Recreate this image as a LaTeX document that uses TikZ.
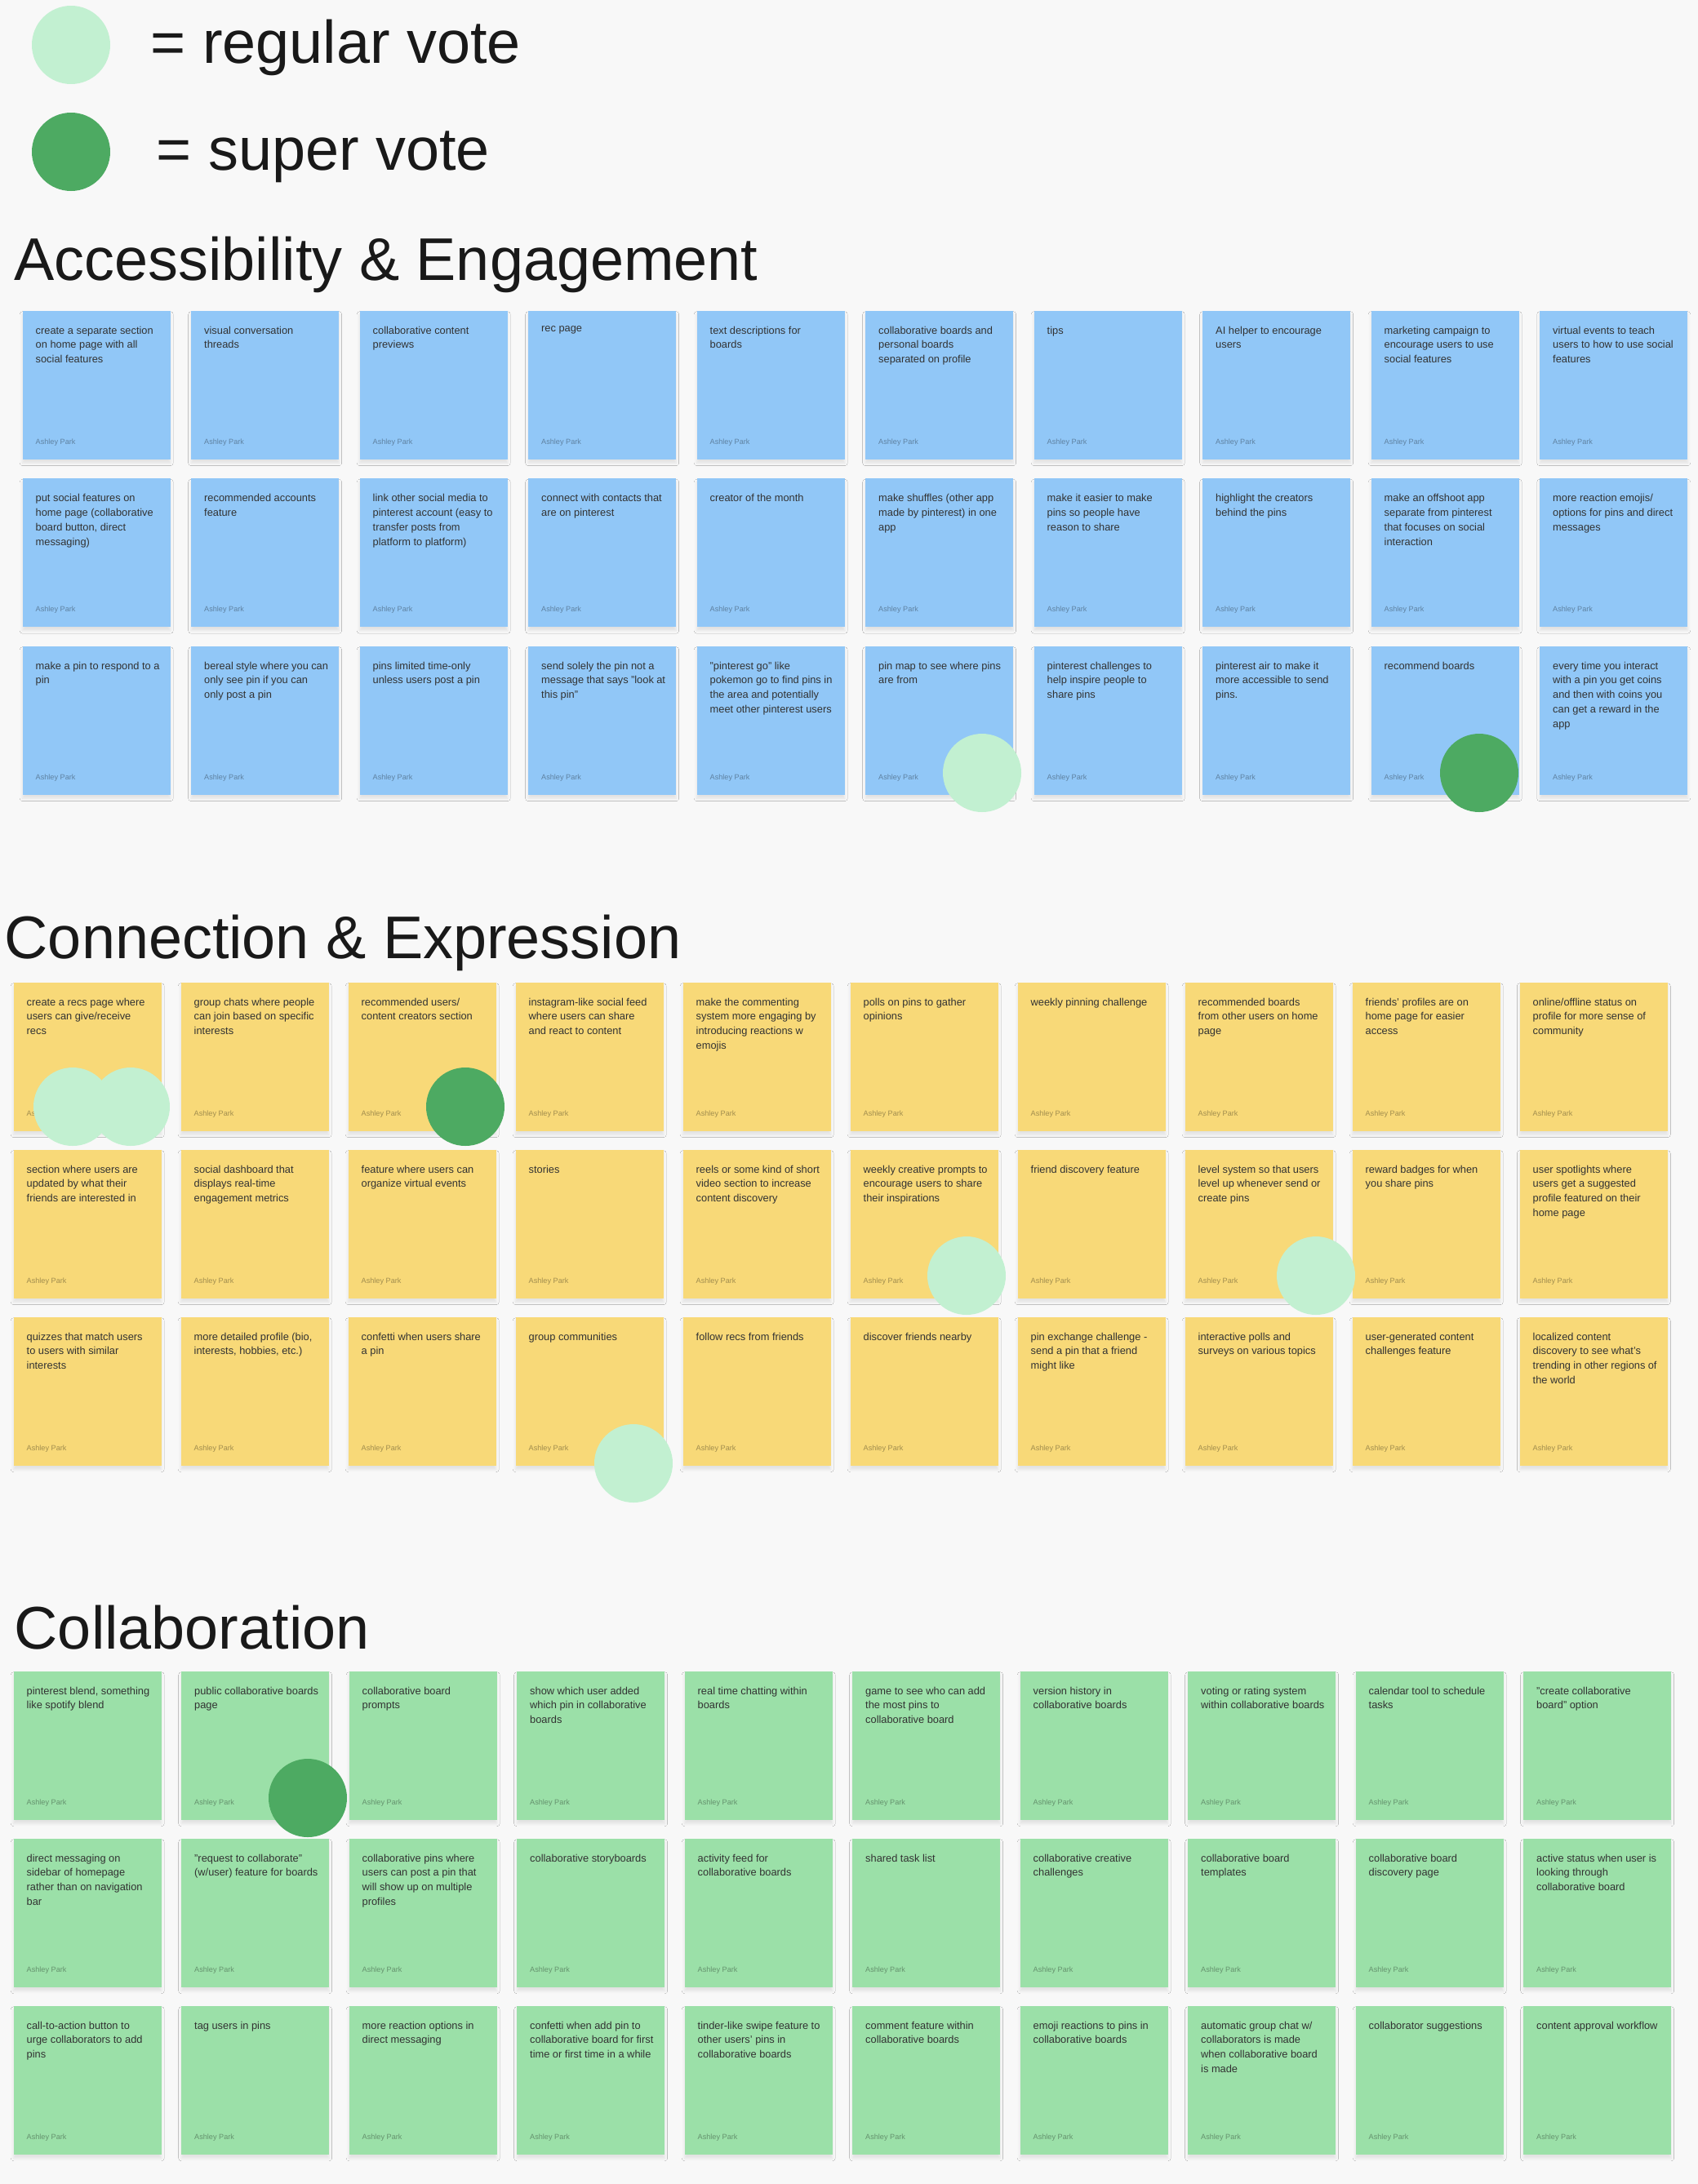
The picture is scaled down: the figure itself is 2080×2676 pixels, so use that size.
\documentclass[tikz,border=0pt]{standalone}
\usepackage{fontspec}
\setmainfont{Liberation Sans}
\usepackage{tikz}
\usetikzlibrary{positioning, shadows.blur}
\usepackage{xcolor}
\definecolor{bgcol}{RGB}{248,248,248}
\definecolor{accblue}{RGB}{145,199,247}
\definecolor{conyellow}{RGB}{248,217,120}
\definecolor{colgreen}{RGB}{155,224,168}
\definecolor{regvote}{RGB}{194,240,209}
\definecolor{supvote}{RGB}{77,170,98}
\definecolor{notetxt}{RGB}{50,50,50}
\hyphenpenalty=10000
\exhyphenpenalty=10000
\tikzset{
  note/.style={minimum width=18.1mm, minimum height=18.2mm, inner sep=0pt,
               anchor=north west,
               blur shadow={shadow xshift=0mm, shadow yshift=-0.45mm,
                            shadow blur radius=0.35mm, shadow opacity=9}},
  notetext/.style={anchor=north west, text width=15.18mm, align=flush left,
                   inner sep=0pt, text=notetxt,
                   font=\fontsize{3.65pt}{5.1pt}\selectfont},
  notename/.style={anchor=base west, inner sep=0pt, text=black,
                   opacity=.35, font=\fontsize{2.6pt}{3pt}\selectfont},
  sectitle/.style={anchor=base west, inner sep=0pt, text=black!90,
                   font=\fontsize{21pt}{24pt}\selectfont},
  vote/.style={circle, minimum size=9.6mm, inner sep=0pt}
}

\begin{document}
\begin{tikzpicture}[x=0.1mm,y=-0.1mm]

% ── Canvas ───────────────────────────────────────────────────────────────────
\fill[bgcol] (0,0) rectangle (2080,2676);
\useasboundingbox (0,0) rectangle (2080,2676);

% ── Legend ───────────────────────────────────────────────────────────────────
\node[vote, fill=regvote] (leg-reg) at (87,55) {};
\node[sectitle] (leg-reg-txt) at (184,77) {= regular vote};
\node[vote, fill=supvote] (leg-sup) at (87,186) {};
\node[sectitle] (leg-sup-txt) at (191,208) {= super vote};

% ── Accessibility & Engagement ───────────────────────────────────────────────
\node[sectitle] (acc-title) at (17,343) {Accessibility \& Engagement};

\foreach \c/\txt in {1/{create a separate section on home page with all social features},
                     2/{visual conversation threads},
                     3/{collaborative content previews},
                     4/{rec page},
                     5/{text descriptions for boards},
                     6/{collaborative boards and personal boards separated on profile},
                     7/{tips},
                     8/{AI helper to encourage users},
                     9/{marketing campaign to encourage users to use social features},
                     10/{virtual events to teach users to how to use social features}} {
  \node[note, fill=accblue] (acc-1-\c) at ({27+206.5*(\c-1)},380) {};
  \node[notetext] (acc-1-\c-txt) at ([xshift=1.6mm, yshift=-1.9mm]acc-1-\c.north west) {\txt};
  \node[notename] (acc-1-\c-by) at ([xshift=1.6mm, yshift=1.9mm]acc-1-\c.south west) {Ashley Park};
}
\foreach \c/\txt in {1/{put social features on home page (collaborative board button, direct messaging)},
                     2/{recommended accounts feature},
                     3/{link other social media to pinterest account (easy to transfer posts from platform to platform)},
                     4/{connect with contacts that are on pinterest},
                     5/{creator of the month},
                     6/{make shuffles (other app made by pinterest) in one app},
                     7/{make it easier to make pins so people have reason to share},
                     8/{highlight the creators behind the pins},
                     9/{make an offshoot app separate from pinterest that focuses on social interaction},
                     10/{more reaction emojis/ options for pins and direct messages}} {
  \node[note, fill=accblue] (acc-2-\c) at ({27+206.5*(\c-1)},585.5) {};
  \node[notetext] (acc-2-\c-txt) at ([xshift=1.6mm, yshift=-1.9mm]acc-2-\c.north west) {\txt};
  \node[notename] (acc-2-\c-by) at ([xshift=1.6mm, yshift=1.9mm]acc-2-\c.south west) {Ashley Park};
}
\foreach \c/\txt in {1/{make a pin to respond to a pin},
                     2/{bereal style where you can only see pin if you can only post a pin},
                     3/{pins limited time-only unless users post a pin},
                     4/{send solely the pin not a message that says "look at this pin"},
                     5/{"pinterest go" like pokemon go to find pins in the area and potentially meet other pinterest users},
                     6/{pin map to see where pins are from},
                     7/{pinterest challenges to help inspire people to share pins},
                     8/{pinterest air to make it more accessible to send pins.},
                     9/{recommend boards},
                     10/{every time you interact with a pin you get coins and then with coins you can get a reward in the app}} {
  \node[note, fill=accblue] (acc-3-\c) at ({27+206.5*(\c-1)},791) {};
  \node[notetext] (acc-3-\c-txt) at ([xshift=1.6mm, yshift=-1.9mm]acc-3-\c.north west) {\txt};
  \node[notename] (acc-3-\c-by) at ([xshift=1.6mm, yshift=1.9mm]acc-3-\c.south west) {Ashley Park};
}

% ── Connection & Expression ──────────────────────────────────────────────────
\node[sectitle] (con-title) at (5,1174) {Connection \& Expression};

\foreach \c/\txt in {1/{create a recs page where users can give/receive recs},
                     2/{group chats where people can join based on specific interests},
                     3/{recommended users/ content creators section},
                     4/{instagram-like social feed where users can share and react to content},
                     5/{make the commenting system more engaging by introducing reactions w emojis},
                     6/{polls on pins to gather opinions},
                     7/{weekly pinning challenge},
                     8/{recommended boards from other users on home page},
                     9/{friends' profiles are on home page for easier access},
                     10/{online/offline status on profile for more sense of community}} {
  \node[note, fill=conyellow] (con-1-\c) at ({16+205*(\c-1)},1203) {};
  \node[notetext] (con-1-\c-txt) at ([xshift=1.6mm, yshift=-1.9mm]con-1-\c.north west) {\txt};
  \node[notename] (con-1-\c-by) at ([xshift=1.6mm, yshift=1.9mm]con-1-\c.south west) {Ashley Park};
}
\foreach \c/\txt in {1/{section where users are updated by what their friends are interested in},
                     2/{social dashboard that displays real-time engagement metrics},
                     3/{feature where users can organize virtual events},
                     4/{stories},
                     5/{reels or some kind of short video section to increase content discovery},
                     6/{weekly creative prompts to encourage users to share their inspirations},
                     7/{friend discovery feature},
                     8/{level system so that users level up whenever send or create pins},
                     9/{reward badges for when you share pins},
                     10/{user spotlights where users get a suggested profile featured on their home page}} {
  \node[note, fill=conyellow] (con-2-\c) at ({16+205*(\c-1)},1408) {};
  \node[notetext] (con-2-\c-txt) at ([xshift=1.6mm, yshift=-1.9mm]con-2-\c.north west) {\txt};
  \node[notename] (con-2-\c-by) at ([xshift=1.6mm, yshift=1.9mm]con-2-\c.south west) {Ashley Park};
}
\foreach \c/\txt in {1/{quizzes that match users to users with similar interests},
                     2/{more detailed profile (bio, interests, hobbies, etc.)},
                     3/{confetti when users share a pin},
                     4/{group communities},
                     5/{follow recs from friends},
                     6/{discover friends nearby},
                     7/{pin exchange challenge - send a pin that a friend might like},
                     8/{interactive polls and surveys on various topics},
                     9/{user-generated content challenges feature},
                     10/{localized content discovery to see what's trending in other regions of the world}} {
  \node[note, fill=conyellow] (con-3-\c) at ({16+205*(\c-1)},1613) {};
  \node[notetext] (con-3-\c-txt) at ([xshift=1.6mm, yshift=-1.9mm]con-3-\c.north west) {\txt};
  \node[notename] (con-3-\c-by) at ([xshift=1.6mm, yshift=1.9mm]con-3-\c.south west) {Ashley Park};
}

% ── Collaboration ────────────────────────────────────────────────────────────
\node[sectitle] (col-title) at (17,2020) {Collaboration};

\foreach \c/\txt in {1/{pinterest blend, something like spotify blend},
                     2/{public collaborative boards page},
                     3/{collaborative board prompts},
                     4/{show which user added which pin in collaborative boards},
                     5/{real time chatting within boards},
                     6/{game to see who can add the most pins to collaborative board},
                     7/{version history in collaborative boards},
                     8/{voting or rating system within collaborative boards},
                     9/{calendar tool to schedule tasks},
                     10/{"create collaborative board" option}} {
  \node[note, fill=colgreen] (col-1-\c) at ({16+205.5*(\c-1)},2047) {};
  \node[notetext] (col-1-\c-txt) at ([xshift=1.6mm, yshift=-1.9mm]col-1-\c.north west) {\txt};
  \node[notename] (col-1-\c-by) at ([xshift=1.6mm, yshift=1.9mm]col-1-\c.south west) {Ashley Park};
}
\foreach \c/\txt in {1/{direct messaging on sidebar of homepage rather than on navigation bar},
                     2/{"request to collaborate" (w/user) feature for boards},
                     3/{collaborative pins where users can post a pin that will show up on multiple profiles},
                     4/{collaborative storyboards},
                     5/{activity feed for collaborative boards},
                     6/{shared task list},
                     7/{collaborative creative challenges},
                     8/{collaborative board templates},
                     9/{collaborative board discovery page},
                     10/{active status when user is looking through collaborative board}} {
  \node[note, fill=colgreen] (col-2-\c) at ({16+205.5*(\c-1)},2252) {};
  \node[notetext] (col-2-\c-txt) at ([xshift=1.6mm, yshift=-1.9mm]col-2-\c.north west) {\txt};
  \node[notename] (col-2-\c-by) at ([xshift=1.6mm, yshift=1.9mm]col-2-\c.south west) {Ashley Park};
}
\foreach \c/\txt in {1/{call-to-action button to urge collaborators to add pins},
                     2/{tag users in pins},
                     3/{more reaction options in direct messaging},
                     4/{confetti when add pin to collaborative board for first time or first time in a while},
                     5/{tinder-like swipe feature to other users' pins in collaborative boards},
                     6/{comment feature within collaborative boards},
                     7/{emoji reactions to pins in collaborative boards},
                     8/{automatic group chat w/ collaborators is made when collaborative board is made},
                     9/{collaborator suggestions},
                     10/{content approval workflow}} {
  \node[note, fill=colgreen] (col-3-\c) at ({16+205.5*(\c-1)},2457) {};
  \node[notetext] (col-3-\c-txt) at ([xshift=1.6mm, yshift=-1.9mm]col-3-\c.north west) {\txt};
  \node[notename] (col-3-\c-by) at ([xshift=1.6mm, yshift=1.9mm]col-3-\c.south west) {Ashley Park};
}

% ── Votes ────────────────────────────────────────────────────────────────────
\node[vote, fill=regvote] (vote-acc-3-6) at (1203,947) {};
\node[vote, fill=supvote] (vote-acc-3-9) at (1812,947) {};
\node[vote, fill=regvote] (vote-con-1-1a) at (89,1356) {};
\node[vote, fill=regvote] (vote-con-1-1b) at (160,1356) {};
\node[vote, fill=supvote] (vote-con-1-3) at (570,1356) {};
\node[vote, fill=regvote] (vote-con-2-6) at (1184,1563) {};
\node[vote, fill=regvote] (vote-con-2-8) at (1612,1563) {};
\node[vote, fill=regvote] (vote-con-3-4) at (776,1793) {};
\node[vote, fill=supvote] (vote-col-1-2) at (377,2203) {};

\end{tikzpicture}
\end{document}
